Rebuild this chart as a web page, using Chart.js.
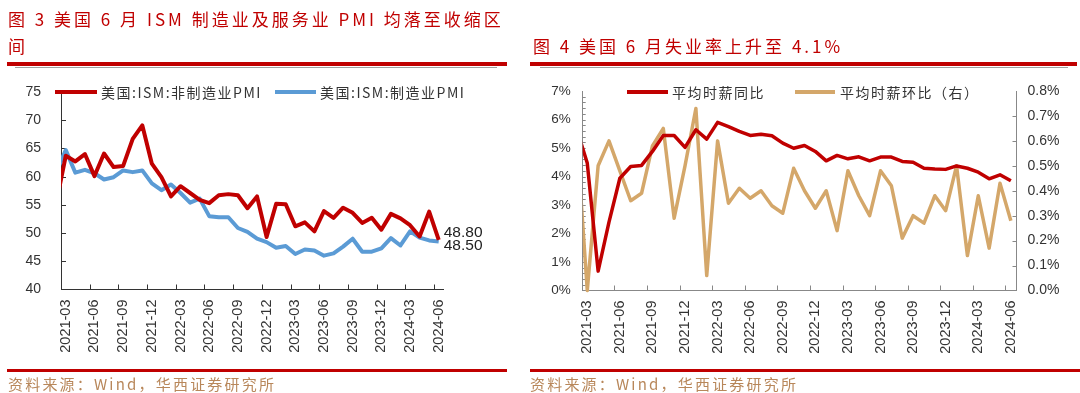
<!DOCTYPE html>
<html>
<head>
<meta charset="utf-8">
<script src="https://cdn.jsdelivr.net/npm/chart.js@4.4.1/dist/chart.umd.min.js"></script>
<style>
  body { margin: 0; background: #fff; width: 1080px; height: 393px; overflow: hidden; position: relative;
         font-family: "Noto Sans CJK SC", sans-serif; }
  .box { position: absolute; top: 0; height: 393px; }
  .title { position: absolute; color: #c00000; font-size: 17px; letter-spacing: 3px; line-height: 27px; white-space: nowrap; z-index: 2; }
  .rule { position: absolute; background: #c00000; z-index: 2; }
  .thin { position: absolute; background: #a0a0a0; height: 1px; z-index: 2; }
  .src { position: absolute; color: #b8875a; font-size: 15px; letter-spacing: 2.2px; white-space: nowrap; z-index: 2; }
  .leg { position: absolute; font-size: 14px; letter-spacing: 1.5px; color: #333; white-space: nowrap; z-index: 2;
         line-height: 16px; }
  .swatch { position: absolute; height: 4px; z-index: 2; }
</style>
</head>
<body>
<div class="title" style="left:8px; top:5px;">图 3 美国 6 月 ISM 制造业及服务业 PMI 均落至收缩区<br>间</div>
<div class="title" style="left:533px; top:32px;">图 4 美国 6 月失业率上升至 4.1%</div>
<div class="rule" style="left:7px; top:62px; width:500px; height:4px;"></div>
<div class="thin" style="left:15px; top:67px; width:482px;"></div>
<div class="rule" style="left:530px; top:62px; width:547px; height:4px;"></div>
<div class="thin" style="left:540px; top:67px; width:528px;"></div>

<div class="swatch" style="left:55px; top:90px; width:42px; background:#c00000;"></div>
<div class="leg" style="left:101px; top:84px;">美国:ISM:非制造业PMI</div>
<div class="swatch" style="left:275px; top:90px; width:41px; background:#5b9bd5;"></div>
<div class="leg" style="left:320px; top:84px;">美国:ISM:制造业PMI</div>

<div class="swatch" style="left:627px; top:90px; width:41px; background:#c00000;"></div>
<div class="leg" style="left:672px; top:84px;">平均时薪同比</div>
<div class="swatch" style="left:795px; top:90px; width:40px; background:#d4a76a;"></div>
<div class="leg" style="left:840px; top:84px;">平均时薪环比（右）</div>

<div class="box" style="left:0; width:520px;"><canvas id="pmiChart" width="520" height="393"></canvas></div>
<div class="box" style="left:520px; width:560px;"><canvas id="wageChart" width="560" height="393"></canvas></div>

<div class="rule" style="left:7px; top:369px; width:500px; height:3px;"></div>
<div class="rule" style="left:530px; top:369px; width:550px; height:3px;"></div>
<div class="src" style="left:8px; top:373px;">资料来源：Wind，华西证券研究所</div>
<div class="src" style="left:530px; top:373px;">资料来源：Wind，华西证券研究所</div>

<script>
// months, first one sits just left of the axis
const monthLabels = [
    '2021-02','2021-03','2021-04','2021-05','2021-06','2021-07','2021-08','2021-09','2021-10','2021-11','2021-12',
    '2022-01','2022-02','2022-03','2022-04','2022-05','2022-06','2022-07','2022-08','2022-09','2022-10','2022-11','2022-12',
    '2023-01','2023-02','2023-03','2023-04','2023-05','2023-06','2023-07','2023-08','2023-09','2023-10','2023-11','2023-12',
    '2024-01','2024-02','2024-03','2024-04','2024-05','2024-06'
];
const tickLabels = ['2021-03','2021-06','2021-09','2021-12','2022-03','2022-06','2022-09','2022-12',
    '2023-03','2023-06','2023-09','2023-12','2024-03','2024-06'];

// ISM PMI
const nonMfgPmi = [55.3, 63.7, 62.7, 64.0, 60.1, 64.1, 61.7, 61.9, 66.7, 69.1, 62.3,
    59.9, 56.5, 58.3, 57.1, 55.9, 55.3, 56.7, 56.9, 56.7, 54.4, 56.5, 49.3,
    55.2, 55.1, 51.2, 51.9, 50.3, 53.9, 52.7, 54.5, 53.6, 51.8, 52.7, 50.6,
    53.4, 52.6, 51.4, 49.4, 53.8, 48.8];
const mfgPmi = [60.8, 64.7, 60.7, 61.2, 60.6, 59.5, 59.9, 61.1, 60.8, 61.1, 58.8,
    57.6, 58.6, 57.1, 55.4, 56.1, 53.0, 52.8, 52.8, 50.9, 50.2, 49.0, 48.4,
    47.4, 47.7, 46.3, 47.1, 46.9, 46.0, 46.4, 47.6, 49.0, 46.7, 46.7, 47.3,
    49.1, 47.8, 50.3, 49.2, 48.7, 48.5];

// average hourly earnings, %
const wageYoy = [5.70, 4.47, 0.68, 2.40, 3.94, 4.35, 4.39, 4.88, 5.44, 5.44, 5.02,
    5.64, 5.31, 5.90, 5.75, 5.58, 5.44, 5.48, 5.43, 5.17, 4.99, 5.09, 4.88,
    4.55, 4.74, 4.62, 4.69, 4.55, 4.68, 4.68, 4.53, 4.50, 4.29, 4.26, 4.25,
    4.37, 4.29, 4.15, 3.92, 4.06, 3.85];
const wageMom = [0.64, 0.00, 0.50, 0.60, 0.48, 0.36, 0.39, 0.58, 0.65, 0.29, 0.50,
    0.73, 0.06, 0.60, 0.35, 0.41, 0.37, 0.40, 0.34, 0.31, 0.49, 0.40, 0.33,
    0.40, 0.24, 0.48, 0.38, 0.30, 0.48, 0.42, 0.21, 0.30, 0.27, 0.38, 0.32,
    0.50, 0.14, 0.38, 0.17, 0.43, 0.28];

const RED = '#c00000', BLUE = '#5b9bd5', GOLD = '#d4a76a';
const numFont = { family: '"Liberation Sans", Arial, sans-serif', size: 14 };

const toPoints = arr => arr.map((v, i) => ({ x: i, y: v }));
const tickValues = tickLabels.map(l => monthLabels.indexOf(l));
// small tick marks sit half a month before each labelled month
const monthMarks = tickValues.slice(1).map(v => v - 0.5);
const range = (a, b, step) => {
    const out = [];
    for (let v = a; v <= b + 1e-9; v += step) out.push(+v.toFixed(2));
    return out;
};

// inward tick marks drawn off the scales
const innerTicks = {
    id: 'innerTicks',
    beforeDatasetsDraw(chart, args, opts) {
        const ctx = chart.ctx;
        (opts.marks || []).forEach(m => {
            const s = chart.scales[m.axis];
            ctx.save();
            ctx.strokeStyle = m.color;
            ctx.lineWidth = 1;
            ctx.beginPath();
            m.values.forEach(v => {
                const p = Math.round(s.getPixelForValue(v)) + 0.5;
                if (s.isHorizontal()) {
                    ctx.moveTo(p, s.top);
                    ctx.lineTo(p, s.top - m.len);
                } else if (s.position === 'left') {
                    ctx.moveTo(s.right, p);
                    ctx.lineTo(s.right + m.len, p);
                } else {
                    ctx.moveTo(s.left, p);
                    ctx.lineTo(s.left - m.len, p);
                }
            });
            ctx.stroke();
            ctx.restore();
        });
    }
};

// last value labels
const endLabels = {
    id: 'endLabels',
    afterDatasetsDraw(chart, args, opts) {
        if (!opts.dy) return;
        const ctx = chart.ctx;
        chart.data.datasets.forEach((ds, i) => {
            const meta = chart.getDatasetMeta(i);
            const pt = meta.data[meta.data.length - 1];
            const v = ds.data[ds.data.length - 1].y;
            ctx.save();
            ctx.font = '15.5px "Liberation Sans", Arial, sans-serif';
            ctx.fillStyle = '#222';
            ctx.textBaseline = 'middle';
            ctx.fillText(v.toFixed(2), pt.x + 5, pt.y + opts.dy[i]);
            ctx.restore();
        });
    }
};

function xAxis(min, max, color) {
    return {
        type: 'linear', min: min, max: max,
        afterBuildTicks: s => { s.ticks = tickValues.map(v => ({ value: v })); },
        afterFit: s => { s.height = 70; },
        ticks: {
            autoSkip: false, minRotation: 90, maxRotation: 90, padding: 10,
            font: { family: numFont.family, size: 14.5 }, color: '#333',
            callback: v => monthLabels[v]
        },
        grid: { display: false, drawTicks: false },
        border: { color: color, width: 1 }
    };
}

function lineSet(label, data, color, width, axis) {
    return {
        label: label, data: toPoints(data), yAxisID: axis,
        borderColor: color, backgroundColor: color, borderWidth: width,
        pointRadius: 0, tension: 0, borderJoinStyle: 'round',
        clip: { left: 0, right: 4, top: 4, bottom: 4 }
    };
}

Chart.defaults.animation = false;
Chart.defaults.devicePixelRatio = 1;

new Chart(document.getElementById('pmiChart'), {
    type: 'line',
    data: {
        datasets: [
            lineSet('美国:ISM:非制造业PMI', nonMfgPmi, RED, 4, 'y'),
            lineSet('美国:ISM:制造业PMI', mfgPmi, BLUE, 4, 'y')
        ]
    },
    options: {
        responsive: false,
        layout: { padding: { left: 0, right: 76.5, top: 92, bottom: 33.5 } },
        scales: {
            x: xAxis(0.5, 40.5, '#333'),
            y: {
                min: 40, max: 75,
                afterFit: s => { s.width = 61; },
                ticks: { stepSize: 5, padding: 20, font: numFont, color: '#333' },
                grid: { display: false, drawTicks: false },
                border: { color: '#333', width: 1 }
            }
        },
        plugins: {
            legend: { display: false },
            tooltip: { enabled: false },
            innerTicks: {
                marks: [
                    { axis: 'x', values: monthMarks, len: 5, color: '#333' },
                    { axis: 'y', values: range(45, 70, 5), len: 5, color: '#333' }
                ]
            },
            endLabels: { dy: [-7, 4.5] }
        }
    },
    plugins: [innerTicks, endLabels]
});

new Chart(document.getElementById('wageChart'), {
    type: 'line',
    data: {
        datasets: [
            lineSet('平均时薪同比', wageYoy, RED, 3.5, 'y'),
            lineSet('平均时薪环比（右）', wageMom, GOLD, 3.5, 'y2')
        ]
    },
    options: {
        responsive: false,
        layout: { padding: { left: 0, right: 13.5, top: 91, bottom: 32.5 } },
        scales: {
            x: xAxis(0.58, 40.52, '#888'),
            y: {
                position: 'left', min: 0, max: 7,
                afterFit: s => { s.width = 62.7; },
                ticks: { stepSize: 1, padding: 12, font: { family: numFont.family, size: 13.5 }, color: '#333',
                         callback: v => v + '%' },
                grid: { display: false, drawTicks: false },
                border: { color: '#888', width: 1 }
            },
            y2: {
                position: 'right', min: 0, max: 0.8,
                afterFit: s => { s.width = 50; },
                ticks: { stepSize: 0.1, padding: 11, font: numFont, color: '#333',
                         callback: v => v.toFixed(1) + '%' },
                grid: { display: false, drawTicks: false },
                border: { color: '#888', width: 1 }
            }
        },
        plugins: {
            legend: { display: false },
            tooltip: { enabled: false },
            innerTicks: {
                marks: [
                    { axis: 'x', values: monthMarks, len: 5, color: '#888' },
                    { axis: 'y', values: range(0.2, 6.8, 0.2), len: 3, color: '#888' },
                    { axis: 'y2', values: range(0.1, 0.7, 0.1), len: 4, color: '#888' }
                ]
            }
        }
    },
    plugins: [innerTicks, endLabels]
});
</script>
</body>
</html>
